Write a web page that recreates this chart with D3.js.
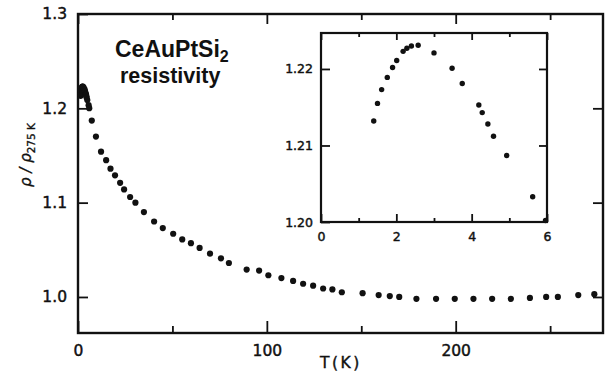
<!DOCTYPE html>
<html>
<head>
<meta charset="utf-8">
<script src="https://cdn.jsdelivr.net/npm/d3@7"></script>
<style>
  body { margin: 0; background: #fff; }
  svg { display: block; }
  .tick text { font-family: "DejaVu Sans", sans-serif; fill: #111; stroke: #111; stroke-width: 0.45px; }
</style>
</head>
<body>
<svg id="chart" width="607" height="373"></svg>
<script>
// ---- Data ----
const mainT = [7.3, 9.5, 12.2, 14.9, 17.2, 19.6, 22.3, 24.4, 27.6, 30.4, 34.9, 40.3, 44.9, 50.4, 55.2, 59.8, 64.4, 69.9, 75.7, 79.9, 89.3, 95.9, 100.8, 107.7, 113.9, 119.2, 124.5, 129.8, 134.7, 139.7, 150.7, 159.2, 165.1, 170.1, 179.2, 189.6, 199.5, 209.4, 219.3, 229.2, 239.3, 247.9, 254.1, 264.9, 273.4];
const mainRho = [1.187, 1.170, 1.154, 1.145, 1.136, 1.129, 1.121, 1.114, 1.106, 1.100, 1.090, 1.080, 1.073, 1.067, 1.061, 1.057, 1.052, 1.046, 1.041, 1.036, 1.029, 1.028, 1.023, 1.020, 1.017, 1.014, 1.012, 1.009, 1.008, 1.005, 1.004, 1.002, 1.001, 1.000, 0.998, 0.998, 0.998, 0.998, 0.998, 0.998, 0.999, 1.000, 1.000, 1.002, 1.003];
const lowT = [1.40, 1.50, 1.61, 1.76, 1.90, 2.01, 2.18, 2.28, 2.40, 2.58, 3.00, 3.48, 3.75, 4.19, 4.28, 4.43, 4.58, 4.93, 5.62, 5.96];
const lowRho = [1.2132, 1.2155, 1.2173, 1.2189, 1.2202, 1.2211, 1.2223, 1.2227, 1.2230, 1.2231, 1.2221, 1.2201, 1.2181, 1.2153, 1.2143, 1.2128, 1.2112, 1.2087, 1.2033, 1.2002];

const mainXMajor = [0, 100, 200];
const mainXMinor = [50, 150, 250];
const mainYTicks = [1.0, 1.1, 1.2, 1.3];
const insetXMajor = [0, 2, 4, 6];
const insetXMinor = [1, 3, 5];
const insetYTicks = [1.20, 1.21, 1.22];

const svg = d3.select("#chart");

// ---- Main plot ----
const M = {left: 78, right: 603, top: 14, bottom: 333};
const x = d3.scaleLinear().domain([0, 278]).range([M.left, M.right]);
const y = d3.scaleLinear().domain([0.9618, 1.3]).range([M.bottom, M.top]);

function styleAxis(g, fs) {
  g.select(".domain").remove();
  g.selectAll(".tick line").attr("stroke", "#111").attr("stroke-width", 1.8);
  g.selectAll(".tick text").style("font-size", fs + "px");
}

// bottom
svg.append("g").attr("transform", `translate(0,${M.bottom})`)
  .call(d3.axisBottom(x).tickValues(mainXMajor).tickSizeInner(-12).tickSizeOuter(0).tickPadding(12).tickFormat(d3.format("d")))
  .call(g => styleAxis(g, 15.5));
svg.append("g").attr("transform", `translate(0,${M.bottom})`)
  .call(d3.axisBottom(x).tickValues(mainXMinor).tickSizeInner(-7).tickSizeOuter(0).tickFormat(""))
  .call(g => styleAxis(g, 15.5));
// top
svg.append("g").attr("transform", `translate(0,${M.top})`)
  .call(d3.axisTop(x).tickValues(mainXMajor).tickSizeInner(-10).tickSizeOuter(0).tickFormat(""))
  .call(g => styleAxis(g, 15.5));
svg.append("g").attr("transform", `translate(0,${M.top})`)
  .call(d3.axisTop(x).tickValues(mainXMinor).tickSizeInner(-6).tickSizeOuter(0).tickFormat(""))
  .call(g => styleAxis(g, 15.5));
// left
svg.append("g").attr("transform", `translate(${M.left},0)`)
  .call(d3.axisLeft(y).tickValues(mainYTicks).tickSizeInner(-10).tickSizeOuter(0).tickPadding(11).tickFormat(d3.format(".1f")))
  .call(g => styleAxis(g, 15.5));
// right
svg.append("g").attr("transform", `translate(${M.right},0)`)
  .call(d3.axisRight(y).tickValues(mainYTicks.slice(0, 3)).tickSizeInner(-10).tickSizeOuter(0).tickFormat(""))
  .call(g => styleAxis(g, 15.5));

svg.append("rect")
  .attr("x", M.left).attr("y", M.top)
  .attr("width", M.right - M.left).attr("height", M.bottom - M.top)
  .attr("fill", "none").attr("stroke", "#111").attr("stroke-width", 2.4);

const mainPts = mainT.map((t, i) => [t, mainRho[i]]).concat(lowT.map((t, i) => [t, lowRho[i]]));
svg.append("g").selectAll("circle").data(mainPts).join("circle")
  .attr("cx", d => x(d[0])).attr("cy", d => y(d[1])).attr("r", 3.1)
  .attr("fill", "#111");

// ---- Inset ----
const I = {left: 321, right: 547, top: 33, bottom: 222};
const xi = d3.scaleLinear().domain([0, 6]).range([I.left, I.right]);
const yi = d3.scaleLinear().domain([1.20, 1.2247]).range([I.bottom, I.top]);

svg.append("g").attr("transform", `translate(0,${I.bottom})`)
  .call(d3.axisBottom(xi).tickValues(insetXMajor).tickSizeInner(-8).tickSizeOuter(0).tickPadding(10).tickFormat(d3.format("d")))
  .call(g => styleAxis(g, 12.5));
svg.append("g").attr("transform", `translate(0,${I.bottom})`)
  .call(d3.axisBottom(xi).tickValues(insetXMinor).tickSizeInner(-4).tickSizeOuter(0).tickFormat(""))
  .call(g => styleAxis(g, 12.5));
svg.append("g").attr("transform", `translate(0,${I.top})`)
  .call(d3.axisTop(xi).tickValues(insetXMajor).tickSizeInner(-7).tickSizeOuter(0).tickFormat(""))
  .call(g => styleAxis(g, 12.5));
svg.append("g").attr("transform", `translate(0,${I.top})`)
  .call(d3.axisTop(xi).tickValues(insetXMinor).tickSizeInner(-4).tickSizeOuter(0).tickFormat(""))
  .call(g => styleAxis(g, 12.5));
svg.append("g").attr("transform", `translate(${I.left},0)`)
  .call(d3.axisLeft(yi).tickValues(insetYTicks).tickSizeInner(-9).tickSizeOuter(0).tickPadding(8).tickFormat(d3.format(".2f")))
  .call(g => styleAxis(g, 12.5));
svg.append("g").attr("transform", `translate(${I.right},0)`)
  .call(d3.axisRight(yi).tickValues(insetYTicks.slice(1)).tickSizeInner(-8).tickSizeOuter(0).tickFormat(""))
  .call(g => styleAxis(g, 12.5));

svg.append("rect")
  .attr("x", I.left).attr("y", I.top)
  .attr("width", I.right - I.left).attr("height", I.bottom - I.top)
  .attr("fill", "none").attr("stroke", "#111").attr("stroke-width", 2.2);

svg.append("g").selectAll("circle").data(lowT.map((t, i) => [t, lowRho[i]])).join("circle")
  .attr("cx", d => xi(d[0])).attr("cy", d => yi(d[1])).attr("r", 2.7)
  .attr("fill", "#111");

// ---- Texts ----
const title = svg.append("text").attr("x", 115).attr("y", 57)
  .attr("font-family", "'Liberation Sans', Arial, sans-serif").attr("font-weight", "bold")
  .attr("font-size", 23).attr("fill", "#111");
title.append("tspan").text("CeAuPtSi");
title.append("tspan").attr("dy", 5).attr("font-size", 16).text("2");

svg.append("text").attr("x", 120).attr("y", 83)
  .attr("font-family", "'Liberation Sans', Arial, sans-serif").attr("font-weight", "bold")
  .attr("font-size", 21.5).attr("fill", "#111").text("resistivity");

svg.append("text").attr("x", 320).attr("y", 368)
  .attr("font-family", "'DejaVu Sans', sans-serif").attr("font-size", 15.5)
  .attr("letter-spacing", 2.5).attr("fill", "#111")
  .attr("stroke", "#111").attr("stroke-width", 0.4).text("T(K)");

const yl = svg.append("text")
  .attr("transform", "translate(31,155) rotate(-90)")
  .attr("text-anchor", "middle")
  .attr("font-family", "'DejaVu Sans', sans-serif").attr("fill", "#111")
  .attr("stroke", "#111").attr("stroke-width", 0.35);
yl.append("tspan").attr("font-size", 15).attr("font-style", "italic").text("ρ / ρ");
yl.append("tspan").attr("font-size", 10.5).attr("dy", 4).text("275 K");
</script>
</body>
</html>
